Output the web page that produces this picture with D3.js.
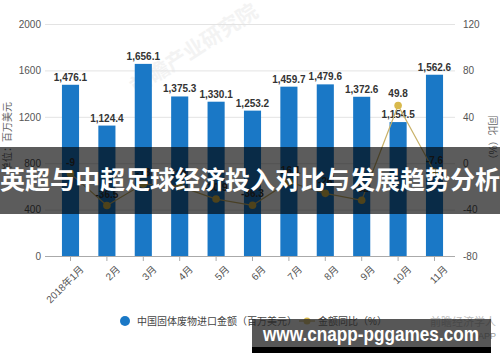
<!DOCTYPE html>
<html><head><meta charset="utf-8">
<script src="https://cdn.jsdelivr.net/npm/d3@7"></script>
<style>
html,body{margin:0;padding:0;background:#fff;}
svg{display:block;}
text{font-family:"Liberation Sans","Noto Sans CJK SC",sans-serif;}
</style></head>
<body>
<svg id="c" width="500" height="362"></svg>
<script>
const categories = ["2018年1月","2月","3月","4月","5月","6月","7月","8月","9月","10月","11月"];
const amounts = [1476.1,1124.4,1656.1,1375.3,1330.1,1253.2,1459.7,1479.6,1372.6,1154.5,1562.6];
const yoy = [-9,-36.5,-18,-20,-30.9,-36.3,-16.1,-26,-32,49.8,-7.6];
const leftTicks = [0,400,800,1200,1600,2000];
const rightTicks = [-80,-40,0,40,80,120];
const legendLabels = ["中国固体废物进口金额（百万美元）","金额同比（%）"];

const svg = d3.select("#c");
const barColor = "#1a78c6", lineColor = "#c9b26a", dotColor = "#d8b94c";

const yL = d3.scaleLinear().domain([0,2000]).range([256,24]);
const yR = d3.scaleLinear().domain([-80,120]).range([256,24]);
const x = d3.scaleBand().domain(categories).range([52.3,452.7]).paddingInner(0.53).paddingOuter(0.265);
const cx = d => x(d) + x.bandwidth()/2;

// watermark
svg.append("text").attr("transform","translate(198,55) rotate(-33)")
  .attr("text-anchor","middle").attr("font-size",21).attr("font-weight","bold")
  .attr("fill","#f3f3f3").attr("font-family","Noto Sans CJK SC").text("前瞻产业研究院");

// left axis + grid
const gl = svg.append("g").attr("transform","translate(45,0)")
  .call(d3.axisLeft(yL).tickValues(leftTicks).tickFormat(d=>String(d)).tickSize(-410).tickPadding(4));
gl.select(".domain").remove();
gl.selectAll(".tick line").attr("stroke","#e3e3e3");
gl.selectAll(".tick text").attr("fill","#555").attr("font-size",10).attr("font-family","Liberation Sans");

// right axis
const gr = svg.append("g").attr("transform","translate(455,0)")
  .call(d3.axisRight(yR).tickValues(rightTicks).tickFormat(d=>String(d)).tickSize(0).tickPadding(8));
gr.select(".domain").remove();
gr.selectAll(".tick text").attr("fill","#555").attr("font-size",10).attr("font-family","Liberation Sans");

// axis titles
svg.append("text").attr("transform","translate(11,137) rotate(-90)").attr("text-anchor","middle")
  .attr("font-size",10).attr("fill","#666").attr("font-family","Noto Sans CJK SC").text("单位：百万美元");
svg.append("text").attr("transform","translate(489,140) rotate(90)").attr("text-anchor","middle")
  .attr("font-size",10).attr("fill","#666").attr("font-family","Noto Sans CJK SC").text("同比（%）");

// bars
svg.append("g").selectAll("rect").data(amounts).join("rect")
  .attr("x",(d,i)=>x(categories[i])).attr("width",x.bandwidth())
  .attr("y",d=>yL(d)).attr("height",d=>yL(0)-yL(d)).attr("fill",barColor);

// bar labels
svg.append("g").selectAll("text").data(amounts).join("text")
  .attr("x",(d,i)=>cx(categories[i])).attr("y",d=>yL(d)-4)
  .attr("text-anchor","middle").attr("font-size",10).attr("font-weight","bold").attr("fill","#333")
  .text(d=>d3.format(",.1f")(d));

// x axis
const gx = svg.append("g").attr("transform","translate(0,256)")
  .call(d3.axisBottom(x).tickSize(5).tickSizeOuter(0));
gx.select(".domain").attr("stroke","#aaa").attr("d","M45,0.5H455");
gx.selectAll(".tick line").attr("stroke","#aaa");
gx.selectAll(".tick text").attr("fill","#555").attr("font-size",10).attr("font-family","Noto Sans CJK SC")
  .attr("text-anchor","end").attr("transform","translate(4,4) rotate(-45)").attr("dy","0.6em");

// line
const line = d3.line().x((d,i)=>cx(categories[i])).y(d=>yR(d));
svg.append("path").datum(yoy).attr("d",line).attr("fill","none").attr("stroke",lineColor).attr("stroke-width",1.2);
svg.append("g").selectAll("circle").data(yoy).join("circle")
  .attr("cx",(d,i)=>cx(categories[i])).attr("cy",d=>yR(d)).attr("r",3.8).attr("fill",dotColor);
svg.append("g").selectAll("text").data(yoy).join("text")
  .attr("x",(d,i)=>cx(categories[i])).attr("y",d=>yR(d)-8)
  .attr("text-anchor","middle").attr("font-size",10).attr("font-weight","bold").attr("fill","#333")
  .text(d=>String(d));

// legend
const lg = svg.append("g").attr("font-family","Noto Sans CJK SC");
lg.append("circle").attr("cx",125).attr("cy",321).attr("r",5).attr("fill",barColor);
lg.append("text").attr("x",137).attr("y",325).attr("font-size",10).attr("fill","#444").text(legendLabels[0]);
lg.append("line").attr("x1",299).attr("x2",315).attr("y1",321).attr("y2",321).attr("stroke",lineColor).attr("stroke-width",1.5);
lg.append("circle").attr("cx",307).attr("cy",321).attr("r",3.5).attr("fill",dotColor);
lg.append("text").attr("x",318).attr("y",325).attr("font-size",10).attr("fill","#444").text(legendLabels[1]);
svg.append("text").attr("x",430).attr("y",326).attr("font-size",11).attr("fill","#bbb")
  .attr("font-family","Noto Sans CJK SC").text("前瞻经济学人");
svg.append("text").attr("x",478).attr("y",339).attr("font-size",9).attr("fill","#999").text("APP");

// banner overlay
svg.append("rect").attr("x",0).attr("y",147).attr("width",500).attr("height",67).attr("fill","rgba(0,0,0,0.64)");
svg.append("text").attr("x",250).attr("y",189).attr("text-anchor","middle")
  .attr("font-family","Noto Sans CJK SC").attr("font-weight","bold").attr("font-size",25)
  .attr("fill","#fff").text("英超与中超足球经济投入对比与发展趋势分析");

// bottom url box
svg.append("rect").attr("x",252).attr("y",319).attr("width",239).attr("height",28).attr("fill","rgba(40,40,40,0.78)");
svg.append("rect").attr("x",252).attr("y",347).attr("width",239).attr("height",6).attr("fill","#000");
svg.append("text").attr("x",263).attr("y",341).attr("font-family","Open Sans").attr("font-weight","bold")
  .attr("font-size",20).attr("fill","#fff").attr("textLength",216).attr("lengthAdjust","spacingAndGlyphs")
  .text("www.cnapp-pggames.com");
</script>
</body></html>
